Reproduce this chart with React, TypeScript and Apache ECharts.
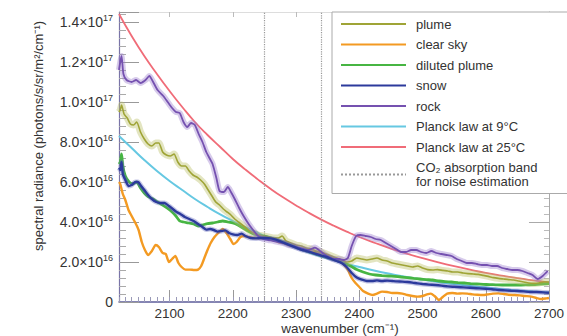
import React, { useEffect, useRef } from "react";
import * as echarts from "echarts";

// wavenumber (cm-1) vs spectral radiance (units of 1e16 photons/s/sr/m2/cm-1)
const wavenumberTicks = [2100, 2200, 2300, 2400, 2500, 2600, 2700];
const radianceTicks = [0, 2, 4, 6, 8, 10, 12, 14];
const co2Band = [2250, 2340];

const plume: [number, number][] = [
  [2020, 9.5], [2022, 9.6], [2024, 9.85], [2028, 9.4], [2033, 9.2], [2038, 8.9], [2043, 8.85], [2048, 9.0],
  [2054, 8.5], [2060, 8.15], [2066, 7.9], [2072, 7.8], [2078, 7.95], [2083, 7.95], [2089, 7.5], [2095, 7.35],
  [2101, 7.3], [2107, 7.4], [2113, 7.0], [2119, 6.8], [2125, 6.8], [2131, 6.55], [2137, 6.35], [2143, 6.25],
  [2149, 6.1], [2155, 5.9], [2161, 5.6], [2167, 5.3], [2173, 5.0], [2179, 4.85], [2185, 4.65], [2191, 4.5],
  [2197, 4.35], [2203, 4.15], [2209, 4.0], [2215, 3.85], [2221, 3.7], [2227, 3.55], [2233, 3.45], [2240, 3.35],
  [2248, 3.3], [2256, 3.25], [2264, 3.2], [2272, 3.2], [2278, 3.3], [2284, 3.05], [2292, 2.95], [2300, 2.85],
  [2308, 2.8], [2316, 2.7], [2324, 2.65], [2332, 2.55], [2340, 2.5], [2348, 2.4], [2356, 2.3], [2364, 2.2],
  [2372, 2.1], [2380, 2.0], [2388, 2.05], [2396, 2.2], [2404, 2.15], [2412, 2.1], [2420, 2.15], [2428, 2.2],
  [2436, 2.1], [2444, 2.05], [2452, 1.95], [2460, 1.9], [2468, 1.85], [2476, 1.8], [2484, 1.75], [2492, 1.8],
  [2500, 1.7], [2508, 1.62], [2516, 1.6], [2524, 1.62], [2532, 1.58], [2540, 1.55], [2548, 1.5], [2556, 1.5],
  [2564, 1.45], [2572, 1.42], [2580, 1.4], [2588, 1.38], [2596, 1.33], [2604, 1.28], [2612, 1.22], [2620, 1.18],
  [2628, 1.15], [2636, 1.12], [2644, 1.1], [2652, 1.05], [2660, 1.0], [2668, 0.95], [2676, 0.93], [2684, 0.95],
  [2692, 1.0], [2700, 1.0],
];

const clearSky: [number, number][] = [
  [2020, 6.0], [2022, 5.9], [2026, 5.4], [2030, 5.1], [2035, 4.6], [2040, 4.3], [2046, 3.95], [2051, 3.6],
  [2056, 3.0], [2061, 2.6], [2066, 2.35], [2072, 2.55], [2078, 2.85], [2083, 2.75], [2089, 2.45], [2094, 2.4],
  [2099, 2.0], [2104, 2.15], [2109, 2.3], [2114, 1.95], [2119, 1.75], [2125, 1.62], [2132, 1.62], [2139, 1.6],
  [2145, 1.62], [2150, 1.8], [2155, 2.2], [2160, 2.6], [2165, 2.95], [2171, 3.25], [2177, 3.45], [2184, 3.65],
  [2190, 3.45], [2196, 3.15], [2201, 2.9], [2206, 3.0], [2212, 3.25], [2218, 3.3], [2225, 3.25], [2232, 3.2],
  [2240, 3.2], [2248, 3.18], [2256, 3.15], [2264, 3.1], [2272, 3.0], [2280, 2.95], [2288, 2.85], [2296, 2.78],
  [2304, 2.68], [2312, 2.6], [2320, 2.55], [2328, 2.5], [2336, 2.45], [2344, 2.38], [2352, 2.3], [2360, 2.2],
  [2368, 2.1], [2376, 1.85], [2382, 1.6], [2388, 1.2], [2394, 0.95], [2400, 0.75], [2406, 0.55], [2414, 0.42],
  [2421, 0.35], [2428, 0.42], [2436, 0.52], [2444, 0.5], [2452, 0.45], [2460, 0.45], [2468, 0.42], [2476, 0.35],
  [2484, 0.3], [2492, 0.27], [2500, 0.3], [2507, 0.38], [2513, 0.42], [2519, 0.3], [2526, 0.1], [2532, 0.25],
  [2539, 0.42], [2547, 0.45], [2555, 0.42], [2563, 0.43], [2571, 0.42], [2579, 0.38], [2587, 0.36], [2595, 0.35],
  [2603, 0.38], [2611, 0.42], [2620, 0.43], [2628, 0.4], [2636, 0.36], [2646, 0.35], [2654, 0.33], [2662, 0.3],
  [2672, 0.27], [2680, 0.2], [2688, 0.15], [2696, 0.18], [2700, 0.2],
];

const dilutedPlume: [number, number][] = [
  [2020, 6.9], [2022, 7.0], [2024, 7.4], [2026, 6.8], [2030, 6.3], [2036, 6.0], [2042, 5.9], [2048, 6.0],
  [2054, 5.7], [2060, 5.45], [2066, 5.27], [2074, 5.15], [2081, 5.0], [2089, 4.85], [2097, 4.68], [2104, 4.5],
  [2110, 4.3], [2116, 4.05], [2122, 4.0], [2130, 3.95], [2138, 3.9], [2145, 3.8], [2152, 3.85], [2160, 3.92],
  [2168, 3.95], [2176, 4.0], [2184, 4.05], [2192, 4.0], [2200, 3.95], [2208, 3.85], [2216, 3.7], [2224, 3.55],
  [2232, 3.42], [2240, 3.35], [2248, 3.3], [2256, 3.25], [2266, 3.15], [2276, 3.05], [2286, 2.95], [2296, 2.8],
  [2306, 2.65], [2316, 2.55], [2326, 2.45], [2336, 2.35], [2346, 2.25], [2356, 2.15], [2366, 2.05], [2376, 1.95],
  [2386, 1.8], [2396, 1.62], [2406, 1.5], [2416, 1.4], [2426, 1.35], [2436, 1.32], [2446, 1.3], [2456, 1.28],
  [2466, 1.25], [2476, 1.22], [2486, 1.18], [2496, 1.15], [2506, 1.12], [2516, 1.1], [2526, 1.05], [2536, 1.02],
  [2546, 1.0], [2556, 0.97], [2566, 0.95], [2576, 0.92], [2586, 0.9], [2596, 0.88], [2606, 0.87], [2616, 0.86],
  [2626, 0.85], [2636, 0.85], [2646, 0.85], [2656, 0.85], [2666, 0.86], [2676, 0.87], [2686, 0.9], [2700, 0.92],
];

const snow: [number, number][] = [
  [2020, 6.7], [2022, 6.6], [2024, 7.0], [2026, 6.4], [2030, 6.1], [2035, 5.8], [2040, 5.85], [2046, 6.0],
  [2050, 6.0], [2055, 5.8], [2060, 5.6], [2066, 5.35], [2072, 5.15], [2079, 5.0], [2086, 4.95], [2092, 4.95],
  [2099, 4.8], [2105, 4.65], [2111, 4.5], [2117, 4.4], [2124, 4.25], [2131, 4.15], [2138, 4.05], [2145, 3.9],
  [2152, 3.75], [2158, 3.62], [2164, 3.65], [2170, 3.6], [2176, 3.52], [2182, 3.55], [2188, 3.58], [2194, 3.45],
  [2200, 3.38], [2207, 3.35], [2214, 3.42], [2220, 3.3], [2228, 3.2], [2236, 3.18], [2244, 3.2], [2252, 3.2],
  [2260, 3.18], [2268, 3.12], [2276, 3.02], [2284, 2.92], [2292, 2.82], [2300, 2.72], [2308, 2.62], [2316, 2.55],
  [2324, 2.48], [2332, 2.4], [2340, 2.32], [2348, 2.25], [2356, 2.15], [2364, 2.05], [2372, 1.95], [2380, 1.75],
  [2388, 1.45], [2396, 1.22], [2404, 1.12], [2412, 1.05], [2420, 1.05], [2428, 1.08], [2436, 1.05], [2444, 1.07],
  [2452, 1.05], [2460, 1.03], [2468, 1.02], [2476, 1.0], [2484, 0.97], [2492, 0.93], [2500, 0.9], [2510, 0.87],
  [2520, 0.85], [2530, 0.82], [2540, 0.78], [2550, 0.76], [2560, 0.74], [2570, 0.72], [2580, 0.7], [2590, 0.68],
  [2600, 0.66], [2610, 0.64], [2620, 0.6], [2630, 0.58], [2640, 0.56], [2650, 0.55], [2660, 0.53], [2670, 0.5],
  [2680, 0.5], [2690, 0.48], [2700, 0.46],
];

const rock: [number, number][] = [
  [2020, 11.6], [2022, 12.0], [2024, 12.3], [2027, 11.4], [2032, 11.1], [2040, 11.0], [2047, 11.1], [2054, 10.95],
  [2062, 11.1], [2068, 11.3], [2074, 11.0], [2081, 10.6], [2090, 10.3], [2097, 10.0], [2104, 9.7], [2110, 9.5],
  [2116, 9.45], [2122, 9.0], [2128, 8.75], [2134, 8.95], [2140, 8.85], [2146, 8.4], [2152, 8.0], [2158, 7.5],
  [2163, 7.2], [2168, 6.9], [2174, 6.2], [2179, 5.55], [2186, 5.5], [2192, 5.75], [2197, 5.5], [2203, 5.15],
  [2210, 4.7], [2217, 4.3], [2225, 3.9], [2232, 3.6], [2240, 3.3], [2248, 3.15], [2256, 3.1], [2265, 3.05],
  [2272, 3.0], [2280, 2.95], [2288, 2.85], [2296, 2.8], [2304, 2.72], [2312, 2.65], [2320, 2.6], [2330, 2.72],
  [2336, 2.6], [2344, 2.4], [2352, 2.25], [2360, 2.15], [2368, 2.15], [2376, 2.1], [2382, 2.2], [2388, 2.8],
  [2395, 3.3], [2402, 3.35], [2410, 3.3], [2418, 3.25], [2426, 3.15], [2434, 3.1], [2442, 2.95], [2450, 2.8],
  [2458, 2.65], [2466, 2.5], [2474, 2.5], [2482, 2.6], [2490, 2.6], [2498, 2.5], [2506, 2.45], [2514, 2.55],
  [2522, 2.45], [2530, 2.4], [2538, 2.35], [2546, 2.3], [2554, 2.15], [2562, 2.05], [2570, 1.95], [2578, 1.95],
  [2586, 1.9], [2594, 1.85], [2602, 1.85], [2610, 1.8], [2618, 1.8], [2626, 1.7], [2634, 1.65], [2642, 1.6],
  [2650, 1.6], [2658, 1.55], [2666, 1.45], [2674, 1.35], [2682, 1.15], [2690, 1.3], [2698, 1.55],
];

const planck9: [number, number][] = [
  [2020, 8.3], [2040, 7.7], [2060, 7.1], [2080, 6.55], [2100, 6.05], [2120, 5.6], [2140, 5.15], [2160, 4.75],
  [2180, 4.38], [2200, 4.05], [2220, 3.74], [2240, 3.45], [2260, 3.18], [2280, 2.93], [2300, 2.7], [2325, 2.42],
  [2350, 2.17], [2375, 1.95], [2400, 1.75], [2425, 1.56], [2450, 1.4], [2475, 1.25], [2500, 1.12], [2525, 1.0],
  [2550, 0.9], [2575, 0.8], [2600, 0.72], [2625, 0.64], [2650, 0.58], [2675, 0.52], [2700, 0.47],
];

const planck25: [number, number][] = [
  [2020, 14.4], [2040, 13.3], [2060, 12.3], [2080, 11.4], [2100, 10.55], [2120, 9.75], [2140, 9.0], [2160, 8.35],
  [2180, 7.75], [2200, 7.15], [2220, 6.62], [2240, 6.12], [2260, 5.65], [2280, 5.22], [2300, 4.83], [2320, 4.46],
  [2340, 4.12], [2360, 3.81], [2380, 3.52], [2400, 3.25], [2425, 2.95], [2450, 2.67], [2475, 2.42], [2500, 2.19],
  [2525, 1.98], [2550, 1.79], [2575, 1.62], [2600, 1.46], [2625, 1.32], [2650, 1.19], [2675, 1.08], [2700, 0.98],
];

const CO2_NAME = "CO₂ absorption band for noise estimation";

const FONT = "'Liberation Sans', Arial, Helvetica, sans-serif";
const TEXT = "#333";

export default function App() {
  const ref = useRef<HTMLDivElement>(null);

  useEffect(() => {
    document.body.style.margin = "0";
    if (!ref.current) return;
    const chart = echarts.init(ref.current, undefined, { renderer: "svg" });

    const minorX: number[] = [];
    for (let v = 2020; v <= 2700; v += 10) minorX.push(v);

    const core = (name: string, data: any, color: string, width: number, z: number, smooth: number | boolean = 0.2) => ({
      type: "line",
      name,
      data,
      symbol: "none",
      smooth,
      silent: true,
      z,
      lineStyle: { color, width },
      itemStyle: { color },
    });
    const band = (name: string, data: any, color: string, width: number, opacity: number, z: number) => ({
      type: "line",
      name: name + " spread",
      data,
      symbol: "none",
      smooth: 0.2,
      silent: true,
      z,
      lineStyle: { color, width, opacity },
      itemStyle: { color },
    });

    const option: any = {
      animation: false,
      textStyle: { fontFamily: FONT },
      grid: { left: 119, top: 12, width: 442, height: 290, containLabel: false },
      xAxis: [
        {
          type: "value",
          min: 2020,
          max: 2700,
          position: "bottom",
          axisLine: { show: true, lineStyle: { color: "#5e5e9a", width: 1.5 } },
          axisTick: { show: true, inside: true, length: 12, customValues: wavenumberTicks, lineStyle: { color: "#999" } },
          axisLabel: {
            show: true,
            customValues: wavenumberTicks,
            formatter: (v: number) => String(v),
            color: TEXT,
            fontSize: 13.5,
            fontFamily: FONT,
            margin: 4,
            alignMaxLabel: "center",
            hideOverlap: false,
          },
          splitLine: { show: false },
        },
        {
          type: "value",
          min: 2020,
          max: 2700,
          position: "bottom",
          axisLine: { show: false },
          axisTick: { show: true, inside: true, length: 5, customValues: minorX, lineStyle: { color: "#9a9ab8" } },
          axisLabel: { show: false },
          splitLine: { show: false },
        },
        {
          type: "value",
          min: 2020,
          max: 2700,
          position: "top",
          axisLine: { show: true, lineStyle: { color: "#ddd" } },
          axisTick: { show: true, inside: true, length: 5, customValues: wavenumberTicks, lineStyle: { color: "#bbb" } },
          axisLabel: { show: false },
          splitLine: { show: false },
        },
      ],
      yAxis: [
        {
          type: "value",
          min: 0,
          max: 14.5,
          interval: 2,
          position: "left",
          axisLine: { show: true, lineStyle: { color: "#7a74a8", width: 1.2 } },
          axisTick: { show: true, inside: true, length: 20, lineStyle: { color: "#999" } },
          minorTick: { show: true, splitNumber: 5, length: 7, lineStyle: { color: "#aaa" } },
          axisLabel: {
            show: true,
            margin: 6,
            showMaxLabel: false,
            formatter: (v: number) => {
              if (!radianceTicks.includes(v)) return "";
              if (v === 0) return "{m|0}";
              const big = v >= 10;
              const mant = (big ? v / 10 : v).toFixed(1);
              return `{m|${mant}×10}{e|${big ? 17 : 16}}`;
            },
            rich: {
              m: { fontSize: 14, color: TEXT, fontFamily: FONT },
              e: { fontSize: 9, color: TEXT, fontFamily: FONT, padding: [0, 0, 8, 0] },
            },
          },
          splitLine: { show: false },
        },
        {
          type: "value",
          min: 0,
          max: 14.5,
          interval: 2,
          position: "right",
          axisLine: { show: true, lineStyle: { color: "#aaa" } },
          axisTick: { show: true, inside: true, length: 20, lineStyle: { color: "#aaa" } },
          minorTick: { show: true, splitNumber: 5, length: 5, lineStyle: { color: "#bbb" } },
          axisLabel: { show: false },
          splitLine: { show: false },
        },
      ],
      legend: {
        orient: "vertical",
        left: 332,
        top: 12,
        z: 10,
        padding: [5, 36, 5, 8],
        itemWidth: 65,
        itemHeight: 14,
        itemGap: 6.5,
        backgroundColor: "#fff",
        borderColor: "#aaa",
        borderWidth: 1,
        selectedMode: false,
        itemStyle: { opacity: 0 },
        textStyle: { fontSize: 13, color: TEXT, fontFamily: FONT, lineHeight: 14, padding: [0, 0, 0, 5] },
        formatter: (name: string) => name.replace(" for noise", "\nfor noise"),
        data: [
          "plume",
          "clear sky",
          "diluted plume",
          "snow",
          "rock",
          "Planck law at 9°C",
          "Planck law at 25°C",
          CO2_NAME,
        ],
      },
      graphic: [
        {
          type: "text",
          x: 38,
          y: 136,
          rotation: Math.PI / 2,
          style: {
            text: "spectral radiance (photons/s/sr/m²/cm⁻¹)",
            fontSize: 13,
            fontFamily: FONT,
            fill: TEXT,
            align: "center",
            verticalAlign: "middle",
          },
        },
        {
          type: "text",
          x: 340,
          y: 328,
          style: {
            text: "wavenumber (cm⁻¹)",
            fontSize: 13.5,
            fontFamily: FONT,
            fill: TEXT,
            align: "center",
            verticalAlign: "middle",
          },
        },
      ],
      series: [
        core("plume", plume, "#9fa436", 1.6, 6),
        core("clear sky", clearSky, "#f39a22", 2.4, 4),
        core("diluted plume", dilutedPlume, "#47b543", 2.8, 5),
        core("snow", snow, "#2c3a9c", 2.4, 8),
        core("rock", rock, "#7551b0", 1.8, 7),
        core("Planck law at 9°C", planck9, "#66c8e2", 2, 3, true),
        core("Planck law at 25°C", planck25, "#f06c78", 1.8, 3, true),
        {
          type: "line",
          name: CO2_NAME,
          data: [],
          symbol: "none",
          silent: true,
          z: 2,
          lineStyle: { color: "#999", width: 1.5, type: "dotted" },
          itemStyle: { color: "#999" },
          markLine: {
            silent: true,
            symbol: "none",
            label: { show: false },
            lineStyle: { color: "#999", width: 1.2, type: "dotted" },
            data: co2Band.map((x) => ({ xAxis: x })),
          },
        },
        band("plume", plume, "#b9bd63", 7, 0.4, 5),
        band("snow", snow, "#5a5fb8", 5, 0.35, 7),
        band("rock", rock, "#9b7ccc", 6, 0.4, 6),
      ],
    };

    chart.setOption(option);
    return () => chart.dispose();
  }, []);

  return <div ref={ref} style={{ width: 567, height: 336 }} />;
}
